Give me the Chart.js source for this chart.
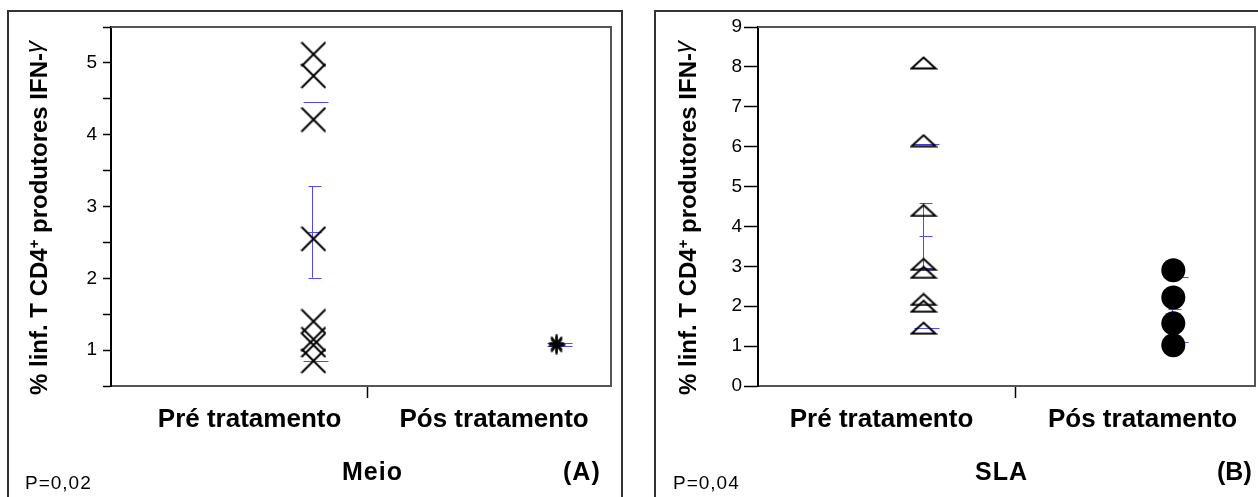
<!DOCTYPE html>
<html>
<head>
<meta charset="utf-8">
<script src="https://cdn.jsdelivr.net/npm/chart.js@4.4.1/dist/chart.umd.min.js"></script>
<style>
  html, body { margin: 0; padding: 0; background: #fff; width: 1258px; height: 497px; overflow: hidden;
    font-family: "Liberation Sans", Arial, sans-serif; color: #000; }
  .frame { position: absolute; border: 2px solid #333; box-sizing: border-box; }
  #frameA { left: 7px; top: 10px; width: 616px; height: 510px; }
  #frameB { left: 654px; top: 10px; width: 620px; height: 510px; }
  .holder { position: absolute; top: 0; height: 497px; width: 629px; }
  #holderA { left: 0; }
  #holderB { left: 629px; }
  .ytitle { position: absolute; white-space: nowrap; font-weight: bold; font-size: 24px; line-height: 1;
    transform: translate(-50%, -50%) rotate(-90deg); }
  .ytitle sup { font-size: 0.62em; vertical-align: 0.55em; line-height: 0; }
  .ytitle .g { font-weight: normal; font-style: italic; position: relative; top: -0.2em; }
  .txt { position: absolute; white-space: nowrap; line-height: 1; }
  .p { font-size: 19px; letter-spacing: 1px; }
  .b { font-weight: bold; font-size: 25px; letter-spacing: 1px; }
</style>
</head>
<body>
<div class="frame" id="frameA"></div>
<div class="frame" id="frameB"></div>
<div class="holder" id="holderA"><canvas id="chartA"></canvas></div>
<div class="holder" id="holderB"><canvas id="chartB"></canvas></div>

<div class="ytitle" style="left:39px; top:218px;">% linf. T CD4<sup>+</sup> produtores IFN-<span class="g">γ</span></div>
<div class="ytitle" style="left:688px; top:218px;">% linf. T CD4<sup>+</sup> produtores IFN-<span class="g">γ</span></div>

<div class="txt p" style="left:25px; top:473px;">P=0,02</div>
<div class="txt b" style="left:342px; top:459px;">Meio</div>
<div class="txt b" style="left:563px; top:459px;">(A)</div>
<div class="txt p" style="left:673px; top:473px;">P=0,04</div>
<div class="txt b" style="left:975px; top:459px;">SLA</div>
<div class="txt b" style="left:1217px; top:459px; letter-spacing:0;">(B)</div>

<script>
// ---- data -------------------------------------------------------------
const categories = ['Pré tratamento', 'Pós tratamento'];

// % of CD4+ T lymphocytes producing IFN-gamma, culture medium only
const meioPre = [5.12, 4.82, 4.21, 2.55, 1.40, 1.15, 1.07, 0.85];
const meioPos = [1.06, 1.08, 1.10, 1.08];

// % of CD4+ T lymphocytes producing IFN-gamma, SLA stimulus
const slaPre = [8.10, 6.15, 4.40, 3.05, 2.85, 2.17, 2.00, 1.45];
const slaPos = [2.90, 2.22, 1.57, 1.02];

// labelled y ticks
const meioTickLabels = [1, 2, 3, 4, 5];
const slaTickLabels = [0, 1, 2, 3, 4, 5, 6, 7, 8, 9];

// ---- marker glyphs ----------------------------------------------------
function glyph(w, h, draw) {
  const c = document.createElement('canvas');
  c.width = w; c.height = h;
  const g = c.getContext('2d');
  g.strokeStyle = '#000';
  g.lineWidth = 2;
  g.lineCap = 'butt';
  draw(g, w, h);
  return c;
}
const crossMark = glyph(26, 26, (g, w, h) => {
  g.beginPath();
  g.moveTo(1, 1); g.lineTo(w - 1, h - 1);
  g.moveTo(w - 1, 1); g.lineTo(1, h - 1);
  g.stroke();
});
const starMark = glyph(18, 20, (g, w, h) => {
  g.lineWidth = 1.4;
  const cx = w / 2, cy = h / 2, rx = 7.5, ry = 9;
  g.beginPath();
  [0, 45, 90, 135].forEach((deg) => {
    const a = deg * Math.PI / 180;
    g.moveTo(cx - Math.cos(a) * rx, cy - Math.sin(a) * ry);
    g.lineTo(cx + Math.cos(a) * rx, cy + Math.sin(a) * ry);
  });
  g.stroke();
});
const triangleMark = glyph(28, 14, (g, w, h) => {
  g.beginPath();
  g.moveTo(w / 2, 1.5);
  g.lineTo(w - 2, h - 1.5);
  g.lineTo(2, h - 1.5);
  g.closePath();
  g.stroke();
});

// ---- helpers -----------------------------------------------------------
function summary(values) {
  const n = values.length;
  const mean = values.reduce((s, v) => s + v, 0) / n;
  const sd = Math.sqrt(values.reduce((s, v) => s + (v - mean) * (v - mean), 0) / (n - 1));
  return { mean, sd, sem: sd / Math.sqrt(n) };
}

// mean, mean ± SD and mean ± SEM drawn in blue behind each group
const summaryLines = {
  id: 'summaryLines',
  beforeDatasetsDraw(chart) {
    const { ctx, scales: { x, y } } = chart;
    ctx.save();
    ctx.strokeStyle = 'rgb(84, 70, 250)';
    ctx.lineWidth = 1;
    chart.data.datasets.forEach((ds) => {
      const st = summary(ds.data.map(p => p.y));
      const px = Math.round(x.getPixelForValue(ds.data[0].x)) + 0.5;
      const h = (v, a, b) => {
        const py = Math.round(y.getPixelForValue(v)) + 0.5;
        ctx.beginPath(); ctx.moveTo(px + a, py); ctx.lineTo(px + b, py); ctx.stroke();
      };
      h(st.mean + st.sd, -10, 15);
      h(st.mean - st.sd, -10, 15);
      h(st.mean, -5, 8);
      h(st.mean + st.sem, -5, 8);
      h(st.mean - st.sem, -5, 8);
      ctx.beginPath();
      ctx.moveTo(px - 1, y.getPixelForValue(st.mean + st.sem));
      ctx.lineTo(px - 1, y.getPixelForValue(st.mean - st.sem));
      ctx.stroke();
    });
    ctx.restore();
  }
};

// top and right edges of the plotting box
const plotBox = {
  id: 'plotBox',
  afterDraw(chart) {
    const { ctx, chartArea: a } = chart;
    ctx.save();
    ctx.strokeStyle = '#555';
    ctx.lineWidth = 2;
    ctx.beginPath();
    ctx.moveTo(a.left, a.top);
    ctx.lineTo(a.right, a.top);
    ctx.lineTo(a.right, a.bottom);
    ctx.stroke();
    ctx.restore();
  }
};

function buildChart(id, groups, cfg) {
  const canvasW = 629, canvasH = 497;
  const datasets = groups.map((g, i) => ({
    data: g.values.map(v => ({ x: i, y: v })),
    pointStyle: g.style,
    pointRadius: g.radius || 10,
    backgroundColor: '#000',
    borderColor: '#000',
    borderWidth: 0,
    showLine: false
  }));
  const a = cfg.area;
  return new Chart(document.getElementById(id), {
    type: 'scatter',
    data: { datasets },
    options: {
      responsive: true,
      maintainAspectRatio: false,
      animation: false,
      events: [],
      layout: { padding: { top: a.top, right: canvasW - a.right, left: 0, bottom: 0 }, autoPadding: false },
      plugins: { legend: { display: false }, tooltip: { enabled: false } },
      scales: {
        x: {
          type: 'linear',
          min: cfg.xMin,
          max: cfg.xMax,
          afterFit: s => {
            s.height = canvasH - a.bottom;
            s.paddingLeft = 0; s.paddingRight = 0;
          },
          afterBuildTicks: s => {
            s.ticks = [{ value: cfg.labelAt[0] }, { value: cfg.divider }, { value: cfg.labelAt[1] }];
          },
          border: { color: '#555', width: 2 },
          grid: {
            drawOnChartArea: false,
            tickLength: 12,
            tickWidth: 1.5,
            tickColor: c => (c.index === 1 ? '#000' : 'rgba(0,0,0,0)')
          },
          ticks: {
            autoSkip: false,
            maxRotation: 0,
            padding: 6,
            color: '#000',
            font: { family: '"Liberation Sans", Arial, sans-serif', size: 26, weight: 'bold' },
            callback: (v, i) => (i === 0 ? categories[0] : i === 2 ? categories[1] : '')
          }
        },
        y: {
          min: cfg.yMin,
          max: cfg.yMax,
          afterFit: s => {
            s.width = a.left;
            s.paddingTop = 0; s.paddingBottom = 0;
          },
          border: { color: '#000', width: 2 },
          grid: { drawOnChartArea: false, tickLength: cfg.tickLen, tickWidth: 1.5, tickColor: '#000' },
          ticks: {
            stepSize: cfg.step,
            autoSkip: false,
            padding: cfg.tickPad,
            color: '#000',
            font: { family: '"Liberation Sans", Arial, sans-serif', size: 19 },
            callback: v => (cfg.labels.includes(v) ? String(v) : '')
          }
        }
      }
    },
    plugins: [summaryLines, plotBox]
  });
}

buildChart('chartA',
  [{ values: meioPre, style: crossMark }, { values: meioPos, style: starMark }],
  {
    area: { left: 111, top: 27, right: 611, bottom: 386 },
    xMin: -0.833, xMax: 1.224, divider: 0.224, labelAt: [-0.263, 0.743],
    yMin: 0.5, yMax: 5.5, step: 0.5, labels: meioTickLabels, tickLen: 8, tickPad: 6
  });

buildChart('chartB',
  [{ values: slaPre, style: triangleMark }, { values: slaPos, style: 'circle', radius: 12 }],
  {
    area: { left: 129, top: 27, right: 626, bottom: 386 },
    xMin: -0.6625, xMax: 1.327, divider: 0.370, labelAt: [-0.168, 0.877],
    yMin: 0, yMax: 9, step: 1, labels: slaTickLabels, tickLen: 14, tickPad: 2
  });
</script>
</body>
</html>
